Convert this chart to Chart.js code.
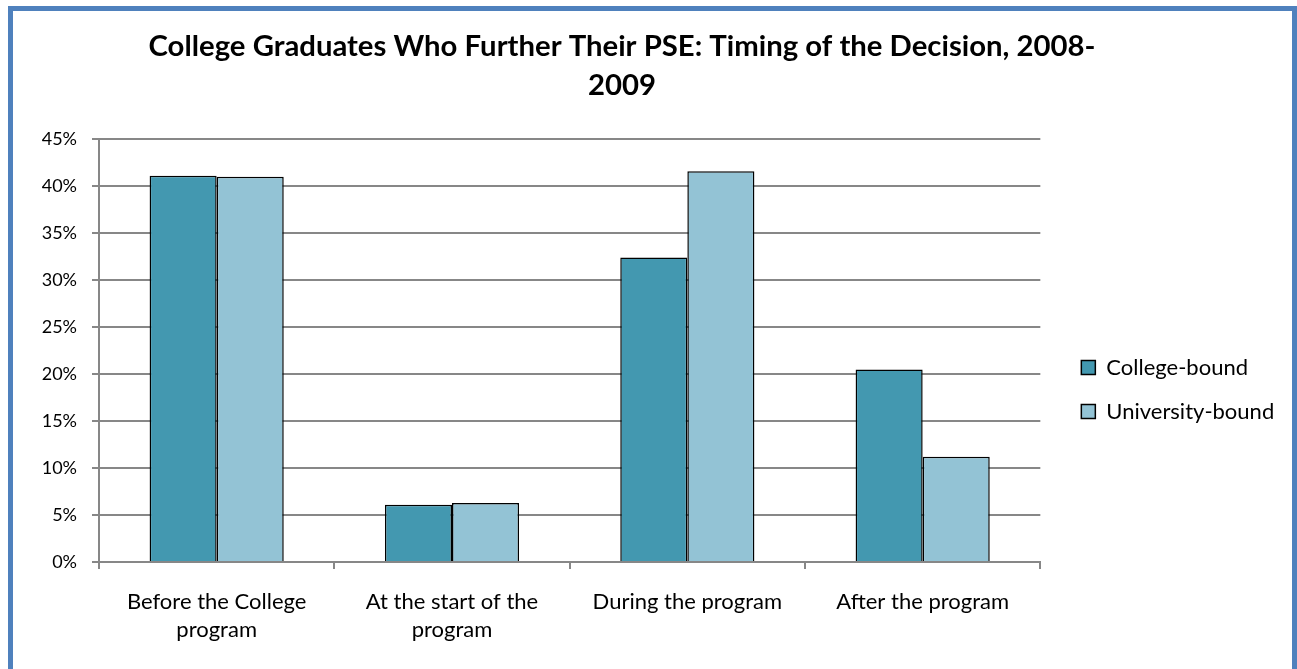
<!DOCTYPE html>
<html><head><meta charset="utf-8">
<script src="https://cdn.jsdelivr.net/npm/chart.js@4/dist/chart.umd.min.js"></script>
<style>
html,body{margin:0;padding:0;background:#fff;overflow:hidden}
#wrap{position:absolute;left:0;top:0;width:1297px;height:669px}
#frame{position:absolute;left:8px;top:6px;width:1289px;height:700px;border:5px solid #4F81BD;box-sizing:border-box;pointer-events:none}
</style></head><body>
<div id="wrap"><canvas id="c" width="1297" height="669"></canvas></div>
<div id="frame"></div>
<script>
const titleLines = ["College Graduates Who Further Their PSE: Timing of the Decision, 2008-", "2009"];
const categories = [["Before the College", "program"], ["At the start of the", "program"], "During the program", "After the program"];
const seriesNames = ["College-bound", "University-bound"];
const collegeBound = [41.1, 6.1, 32.4, 20.5];
const universityBound = [41.0, 6.3, 41.6, 11.2];
const yMin = 0, yMax = 45, yStep = 5;
const seriesColors = ["#4398B0", "#93C3D5"];

const F = "Lato";
const GRID = "#878787";

new Chart(document.getElementById('c'), {
  type: 'bar',
  data: {
    labels: categories,
    datasets: [
      { label: seriesNames[0], data: collegeBound, backgroundColor: seriesColors[0], borderColor: '#000', borderWidth: 1.5, categoryPercentage: 0.57, barPercentage: 1.0 },
      { label: seriesNames[1], data: universityBound, backgroundColor: seriesColors[1], borderColor: '#000', borderWidth: 1.5, categoryPercentage: 0.57, barPercentage: 1.0 }
    ]
  },
  options: {
    responsive: false,
    animation: false,
    devicePixelRatio: 1,
    layout: { padding: { left: -34, right: 19, top: 0, bottom: 6 } },
    plugins: {
      title: {
        display: true, text: titleLines, color: '#000',
        font: { family: F, size: 29.3, weight: 'bold', lineHeight: 1.3 },
        padding: { top: 28, bottom: 35 }
      },
      legend: {
        position: 'right',
        title: { display: true, text: ' ', font: { family: F, size: 10, lineHeight: 1 }, padding: 53 },
        labels: { color: '#000', font: { family: F, size: 22 }, boxWidth: 14, boxHeight: 14, padding: 22 }
      },
      tooltip: { enabled: false }
    },
    scales: {
      x: {
        grid: { offset: true, drawOnChartArea: false, tickLength: 7, color: GRID, lineWidth: 2 },
        border: { color: GRID, width: 2 },
        ticks: { color: '#000', font: { family: F, size: 22, lineHeight: 1.27 }, maxRotation: 0, padding: 19 }
      },
      y: {
        min: yMin, max: yMax,
        afterFit: function (s) { s.width = 133; },
        grid: { color: GRID, lineWidth: 2, tickLength: 7 },
        border: { color: GRID, width: 2 },
        ticks: { stepSize: yStep, color: '#000', font: { family: F, size: 18 }, padding: 15, callback: v => v + '%' }
      },
      gap: {
        type: 'linear', position: 'right', display: true,
        afterFit: function (s) { s.width = 19; },
        grid: { display: false }, border: { display: false }, ticks: { display: false }
      }
    }
  }
});
</script>
</body></html>
